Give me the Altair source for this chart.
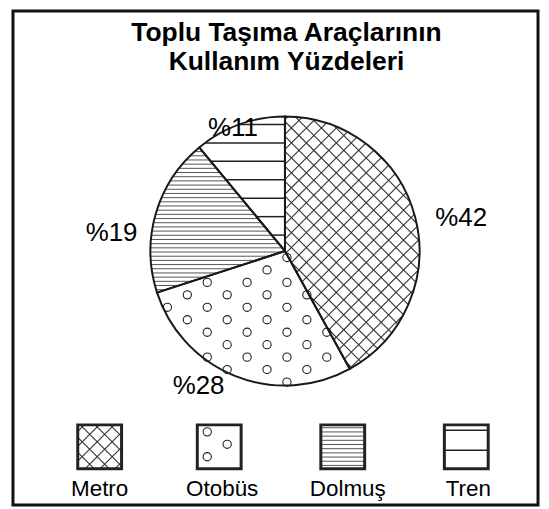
import math
import numpy as np
import pandas as pd
import altair as alt

# ---------------- data ----------------
categories = ["Metro", "Otobüs", "Dolmuş", "Tren"]
values = [42, 28, 19, 11]
labels = ["%42", "%28", "%19", "%11"]
patterns = ["cross", "dots", "dense", "sparse"]
title_lines = ["Toplu Taşıma Araçlarının", "Kullanım Yüzdeleri"]

# ---------------- layout (page pixel units) ----------------
FONT = "Liberation Sans"
LEFT, TOP, RIGHT, BOTTOM = 13, 10, 540, 506
CX, CY, R = 286.0, 251.0, 135.0
label_r = [180, 161, 175, 134]
label_dtheta = [3.8, 11.0, -10.3, -3.1]
legend_cx = [100, 220, 344, 468]
legend_text_dx = [0, 3, 5, 2]
LEG_CY, LEG_HALF, LEG_TEXT_Y = 447.5, 22, 497
CROSS_S, DENSE_S = 15.0, 4.2
SPARSE_S, SPARSE_Y0 = 18.5, 124.0
LEG_SPARSE_S, LEG_SPARSE_Y0 = 20.0, 431.0
DOT_DX, DOT_DY, DOT_X0, DOT_Y0 = 20.0, 25.0, 8.0, 7.5

total = float(sum(values))
ends = np.cumsum(values) / total * 360.0
starts = ends - np.array(values) / total * 360.0


def unit(theta_deg):
    t = math.radians(theta_deg)
    return (math.sin(t), -math.cos(t))


def wedge_planes(a1, a2):
    u1, u2 = unit(a1), unit(a2)
    n1 = (-u1[1], u1[0])
    n2 = (u2[1], -u2[0])
    return [(n1, -(n1[0] * CX + n1[1] * CY)), (n2, -(n2[0] * CX + n2[1] * CY))]


def rect_planes(x0, y0, x1, y1):
    return [((1.0, 0.0), -x0), ((-1.0, 0.0), x1), ((0.0, 1.0), -y0), ((0.0, -1.0), y1)]


def clip(p0, d, planes, circle=None):
    t0, t1 = -1e9, 1e9
    if circle is not None:
        qx, qy = p0[0] - circle[0], p0[1] - circle[1]
        a = d[0] ** 2 + d[1] ** 2
        b = 2 * (qx * d[0] + qy * d[1])
        c = qx * qx + qy * qy - circle[2] ** 2
        disc = b * b - 4 * a * c
        if disc <= 0:
            return None
        sq = math.sqrt(disc)
        t0 = max(t0, (-b - sq) / (2 * a))
        t1 = min(t1, (-b + sq) / (2 * a))
    for n, c in planes:
        g0 = n[0] * p0[0] + n[1] * p0[1] + c
        gd = n[0] * d[0] + n[1] * d[1]
        if abs(gd) < 1e-12:
            if g0 < 0:
                return None
            continue
        tt = -g0 / gd
        if gd > 0:
            t0 = max(t0, tt)
        else:
            t1 = min(t1, tt)
    if t1 - t0 < 0.4:
        return None
    return (p0[0] + t0 * d[0], p0[1] + t0 * d[1], p0[0] + t1 * d[0], p0[1] + t1 * d[1])


def inside(p, planes, circle, m):
    for n, c in planes:
        if n[0] * p[0] + n[1] * p[1] + c < m:
            return False
    if circle is not None:
        if math.hypot(p[0] - circle[0], p[1] - circle[1]) > circle[2] - m:
            return False
    return True


def pattern_items(kind, planes, circle, bbox, sparse=(SPARSE_S, SPARSE_Y0)):
    segs, dots = [], []
    xmin, ymin, xmax, ymax = bbox
    if kind == "cross":
        for sgn in (1, -1):
            vals = [xmin + sgn * ymin, xmin + sgn * ymax, xmax + sgn * ymin, xmax + sgn * ymax]
            k0 = math.floor(min(vals) / CROSS_S) - 1
            k1 = math.ceil(max(vals) / CROSS_S) + 1
            d = (1.0, -1.0) if sgn == 1 else (1.0, 1.0)
            for k in range(k0, k1 + 1):
                s = clip((k * CROSS_S, 0.0), d, planes, circle)
                if s:
                    segs.append(s + (kind,))
    elif kind in ("dense", "sparse"):
        step, y0 = (DENSE_S, 0.0) if kind == "dense" else sparse
        k0 = math.floor((ymin - y0) / step) - 1
        k1 = math.ceil((ymax - y0) / step) + 1
        for k in range(k0, k1 + 1):
            s = clip((0.0, y0 + k * step), (1.0, 0.0), planes, circle)
            if s:
                segs.append(s + (kind,))
    elif kind == "dots":
        i0 = math.floor((xmin - DOT_X0) / DOT_DX) - 1
        i1 = math.ceil((xmax - DOT_X0) / DOT_DX) + 1
        for i in range(i0, i1 + 1):
            off = DOT_DY / 2 if i % 2 else 0.0
            j0 = math.floor((ymin - DOT_Y0 - off) / DOT_DY) - 1
            j1 = math.ceil((ymax - DOT_Y0 - off) / DOT_DY) + 1
            for j in range(j0, j1 + 1):
                p = (DOT_X0 + i * DOT_DX, DOT_Y0 + off + j * DOT_DY)
                if inside(p, planes, circle, 1.0):
                    dots.append(p)
    return segs, dots


all_segs, all_dots = [], []
circle = (CX, CY, R)
bbox_pie = (CX - R, CY - R, CX + R, CY + R)
for k in range(len(categories)):
    sg, dt = pattern_items(patterns[k], wedge_planes(starts[k], ends[k]), circle, bbox_pie)
    all_segs += sg
    all_dots += dt
    x0, x1 = legend_cx[k] - LEG_HALF, legend_cx[k] + LEG_HALF
    y0, y1 = LEG_CY - LEG_HALF, LEG_CY + LEG_HALF
    sg, dt = pattern_items(patterns[k], rect_planes(x0, y0, x1, y1), None, (x0, y0, x1, y1),
                           sparse=(LEG_SPARSE_S, LEG_SPARSE_Y0))
    all_segs += sg
    all_dots += dt

segs_df = pd.DataFrame(all_segs, columns=["x", "y", "x2", "y2", "kind"])
dots_df = pd.DataFrame(all_dots, columns=["x", "y"])

pie_df = pd.DataFrame({"category": categories, "value": values, "idx": list(range(len(values)))})

mids = (starts + ends) / 2
lab_x, lab_y = [], []
for k in range(len(categories)):
    ux, uy = unit(mids[k] + label_dtheta[k])
    lab_x.append(CX + label_r[k] * ux)
    lab_y.append(CY + label_r[k] * uy)
labels_df = pd.DataFrame({"x": lab_x, "y": lab_y, "text": labels})

legend_df = pd.DataFrame({
    "category": categories,
    "x": [c - LEG_HALF for c in legend_cx],
    "x2": [c + LEG_HALF for c in legend_cx],
    "y": [LEG_CY - LEG_HALF] * 4,
    "y2": [LEG_CY + LEG_HALF] * 4,
    "tx": [c + d for c, d in zip(legend_cx, legend_text_dx)],
    "ty": [LEG_TEXT_Y] * 4,
})

title_df = pd.DataFrame({"x": [CX + 1.5], "y": [40.0]})

xs = alt.Scale(domain=[LEFT, RIGHT], nice=False, zero=False)
ys = alt.Scale(domain=[BOTTOM, TOP], nice=False, zero=False)


def XQ(f):
    return alt.X(f, type="quantitative", scale=xs, axis=None)


def YQ(f):
    return alt.Y(f, type="quantitative", scale=ys, axis=None)


seg_base = alt.Chart(segs_df).encode(x=XQ("x"), y=YQ("y"), x2=alt.X2("x2"), y2=alt.Y2("y2"))
cross_layer = seg_base.transform_filter(alt.datum.kind == "cross").mark_rule(color="#333333", strokeWidth=1.1)
dense_layer = seg_base.transform_filter(alt.datum.kind == "dense").mark_rule(color="#555555", strokeWidth=1.0)
sparse_layer = seg_base.transform_filter(alt.datum.kind == "sparse").mark_rule(color="#222222", strokeWidth=1.5)

dots_layer = alt.Chart(dots_df).mark_point(
    shape="circle", size=68, filled=False, stroke="#222222", strokeWidth=1.1, opacity=1
).encode(x=XQ("x"), y=YQ("y"))

pie_outline = alt.Chart(pie_df).mark_arc(
    radius=R, fillOpacity=0, stroke="#1a1a1a", strokeWidth=2
).encode(
    theta=alt.Theta("value:Q", stack=True),
    order=alt.Order("idx:Q", sort="ascending"),
    x=alt.value(CX - LEFT),
    y=alt.value(CY - TOP),
)

legend_boxes = alt.Chart(legend_df).mark_rect(
    fillOpacity=0, stroke="#222222", strokeWidth=3
).encode(x=XQ("x"), x2=alt.X2("x2"), y=YQ("y"), y2=alt.Y2("y2"))

legend_text = alt.Chart(legend_df).mark_text(
    font=FONT, fontSize=22.5, color="black", baseline="alphabetic", align="center"
).encode(x=XQ("tx"), y=YQ("ty"), text="category:N")

label_text = alt.Chart(labels_df).mark_text(
    font=FONT, fontSize=26, color="black", baseline="middle", align="center"
).encode(x=XQ("x"), y=YQ("y"), text="text:N")

title_text = alt.Chart(title_df).mark_text(
    font=FONT, fontSize=26.5, fontWeight="bold", color="black", baseline="alphabetic",
    align="center", lineHeight=29.5
).encode(x=XQ("x"), y=YQ("y"), text=alt.value(title_lines))

chart = alt.layer(
    cross_layer, dense_layer, sparse_layer, dots_layer, pie_outline,
    legend_boxes, legend_text, label_text, title_text
).properties(
    width=RIGHT - LEFT,
    height=BOTTOM - TOP,
    padding={"left": 5, "top": 2, "right": 3, "bottom": 2},
    autosize=alt.AutoSizeParams(type="none"),
    background="white",
).configure_view(stroke="#111111", strokeWidth=3)

chart.save("out.html", embed_options={"renderer": "svg", "actions": False})
